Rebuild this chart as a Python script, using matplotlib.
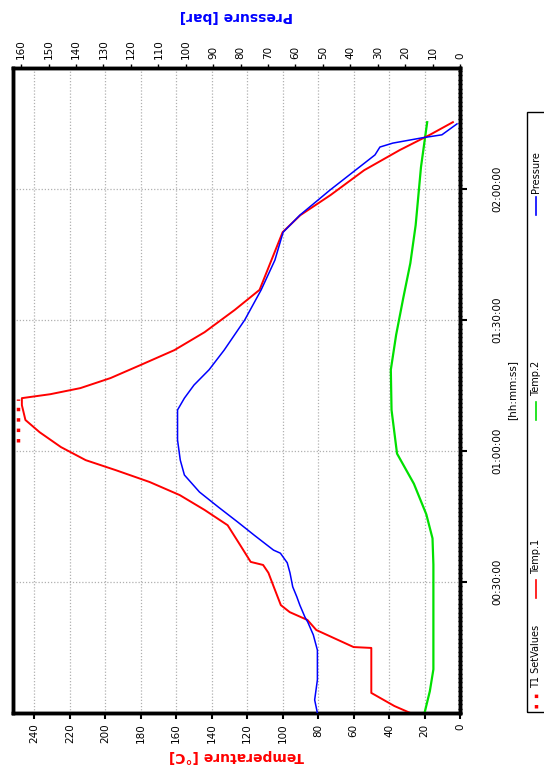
import matplotlib
matplotlib.use("Agg")
import matplotlib.pyplot as plt
from matplotlib.ticker import MultipleLocator, FixedLocator, FuncFormatter
from matplotlib.patches import Rectangle
from matplotlib.lines import Line2D

# Temp.1 [min, degC]
time_temp1 = [0, 1.6, 4.6, 14.9, 15.1, 19.0, 21.3, 23.1, 24.7, 28.9, 32.1, 33.9, 34.6,
              38.5, 43, 46.5, 49.9, 52.9, 55.6, 57.9, 60.9, 64.3, 67.1, 70.5, 72.1,
              73.0, 74.4, 76.7, 79.7, 83.1, 87.2, 92.3, 96.9, 110.1, 114, 118.6,
              124.3, 128.9, 132.4, 135.3]
temp1 = [28, 37, 50, 50, 60, 81, 86, 96, 101, 105, 108, 111, 118,
         124, 131, 144, 158, 175, 194, 211, 225, 237, 245, 247, 247,
         231, 214, 197, 180, 161, 144, 127, 113, 100, 90, 73,
         54, 34, 17, 4]

# Temp.2 [min, degC]
time_temp2 = [0, 5, 10, 34, 40, 45.5, 52.5, 59.4, 69.4, 78.6, 86.6, 95, 103, 111.7, 125, 135.3]
temp2 = [20, 17, 15, 15, 15.5, 19, 26, 35.5, 38.6, 39, 36, 32, 28, 25, 22, 18.5]

# Pressure [min, bar]
time_press = [0, 3, 7.6, 14.4, 17.9, 20.8, 21.9, 24.7, 26.6, 28.9, 32.1, 34.4, 36.6, 37.3,
              40.7, 43.7, 47.1, 50.6, 54.5, 57.9, 62.5, 69.4, 72.1, 75.1, 78.6, 83.1,
              90, 96.9, 103.7, 110.1, 114, 119.7, 127.8, 129.6, 130.5, 131.7, 132.4, 134.9]
press = [52, 53, 52, 52, 53.5, 55.5, 56.5, 58.4, 59.5, 61, 62, 63, 65.5, 68,
         75, 81, 88, 95, 100.5, 102, 103, 103, 100.5, 97, 91.5, 86,
         78.5, 72.5, 67.5, 64.5, 58.4, 47.5, 31, 29.2, 24.5, 13.9, 6.6, 1.1]

# T1 SetValues
time_set = [62.0, 64.0, 66.0, 68.0, 70.0, 72.0]
setvals = [249, 249, 249, 249, 249, 249]

time_ticks = [30, 60, 90, 120]
time_labels = ["00:30:00", "01:00:00", "01:30:00", "02:00:00"]

RED = "#ff0000"
GREEN = "#00e000"
BLUE = "#0000ff"

fig = plt.figure(figsize=(5.44, 7.75), dpi=100)
ax = fig.add_axes([13 / 544, 62 / 775, 447 / 544, 645 / 775])
ax2 = ax.twiny()

ax.plot(temp2, time_temp2, color=GREEN, lw=1.6, zorder=3)
ax.plot(temp1, time_temp1, color=RED, lw=1.4, zorder=4)
ax.plot(setvals, time_set, color=RED, lw=2.5, ls=(0, (1, 2)), zorder=4)
ax2.plot(press, time_press, color=BLUE, lw=1.1, zorder=5)

ax.set_xlim(252, 0)
ax2.set_xlim(163, 0)
ax.set_ylim(0, 147.7)

# temperature axis (bottom)
ax.set_xticks(range(0, 241, 20))
ax.tick_params(axis="x", labelrotation=90, labelsize=7.5, length=4, width=1.5)
ax.set_xlabel("Temperature [°C]", color=RED, fontsize=10, fontweight="bold",
              rotation=180, labelpad=4)

# pressure axis (top)
ax2.set_xticks(range(0, 161, 10))
ax2.tick_params(axis="x", labelrotation=90, labelsize=7.5, length=3, width=1)
ax2.set_xlabel("Pressure [bar]", color=BLUE, fontsize=10, fontweight="bold",
               rotation=180, labelpad=14)

# time axis (right)
ax.yaxis.tick_right()
ax.yaxis.set_label_position("right")
ax.yaxis.set_major_locator(FixedLocator(time_ticks))
ax.yaxis.set_major_formatter(FuncFormatter(lambda v, p: time_labels[p] if p is not None and p < len(time_labels) else ""))
ax.yaxis.set_minor_locator(MultipleLocator(1))
ax.tick_params(axis="y", which="major", labelrotation=90, labelsize=7.5, length=5, width=1.5, pad=18)
ax.tick_params(axis="y", which="minor", length=3, width=1, direction="inout")
for lab in ax.get_yticklabels():
    lab.set_va("center")
ax.set_ylabel("[hh:mm:ss]", fontsize=7.5, rotation=90, labelpad=4)

ax.grid(True, which="major", axis="both", color="#b0b0b0", ls=(0, (1, 1.5)), lw=0.9)
ax2.grid(False)

for a in (ax, ax2):
    for sp in a.spines.values():
        sp.set_linewidth(2.5)

# legend box drawn in figure coordinates
fig.patches.append(Rectangle((527 / 544, 1 - 712 / 775), 30 / 544, 600 / 775,
                             transform=fig.transFigure, fill=False, lw=1, ec="black"))
leg = [("T1 SetValues", RED, (0, (1, 2)), 708, 688),
       ("Temp.1", RED, "-", 598, 574),
       ("Temp.2", GREEN, "-", 420, 396),
       ("Pressure", BLUE, "-", 215, 193)]
for name, col, ls, y0, y1 in leg:
    fig.lines.append(Line2D([536 / 544, 536 / 544], [1 - y0 / 775, 1 - (y0 - 18) / 775],
                            transform=fig.transFigure, color=col, ls=ls,
                            lw=2.5 if ls != "-" else 1.2))
    fig.text(536 / 544, 1 - y1 / 775, name, rotation=90, fontsize=7, ha="center", va="bottom")

fig.savefig("out.png", dpi=100)
